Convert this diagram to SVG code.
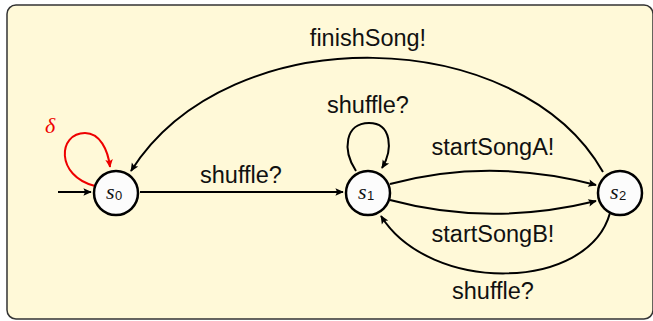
<svg xmlns="http://www.w3.org/2000/svg" width="653" height="321" viewBox="0 0 653 321">
<defs>
<style>
.lbl{font-family:"Liberation Sans",Arial,sans-serif;font-size:23.5px;fill:#111;text-anchor:middle}
.node{fill:#fcfcfc;stroke:#000;stroke-width:2.5}
.st{font-family:"Liberation Serif","Times New Roman",serif;font-style:italic;font-size:22px;fill:#111}
.sub{font-family:"Liberation Sans",Arial,sans-serif;font-size:13px;fill:#111}
.e{fill:none;stroke:#000;stroke-width:2}
</style>
<marker id="ah" viewBox="0 0 10 10" refX="9" refY="5" markerWidth="6" markerHeight="6" markerUnits="userSpaceOnUse" orient="auto" style="overflow:visible">
<path d="M0,0.5 L10,5 L0,9.5 L2,5 Z" fill="#000" transform="scale(1.4) translate(-2.6,-1.4)"/>
</marker>
<marker id="ahr" viewBox="0 0 10 10" refX="9" refY="5" markerWidth="6" markerHeight="6" markerUnits="userSpaceOnUse" orient="auto" style="overflow:visible">
<path d="M0,0.5 L10,5 L0,9.5 L2,5 Z" fill="#e00" transform="scale(1.4) translate(-2.6,-1.4)"/>
</marker>
</defs>
<rect x="7" y="5" width="646" height="314" rx="9" fill="#fff9d8" stroke="#333" stroke-width="1.5"/>
<g id="edges">
<path class="e" d="M58,192 L91,192" marker-end="url(#ah)"/>
<path class="e" d="M140,192 L343,192" marker-end="url(#ah)"/>
<path d="M95,186 C55,176 58,133 85,133 C100,133 108,150 110,167" fill="none" stroke="#e00" stroke-width="2" marker-end="url(#ahr)"/>
<path class="e" d="M356,171 C342,150 345,123 369,123 C392,123 393,150 382,168" marker-end="url(#ah)"/>
<path class="e" d="M603,172 C520,25 230,15 131,171" marker-end="url(#ah)"/>
<path class="e" d="M390,184 Q490,157 596,185" marker-end="url(#ah)"/>
<path class="e" d="M390,200 Q490,227 596,201" marker-end="url(#ah)"/>
<path class="e" d="M610,213 C588,292 430,294 381,216" marker-end="url(#ah)"/>
</g>
<g id="s0"><circle class="node" cx="116" cy="193" r="22"/><text class="st" x="106" y="199">s</text><text class="sub" x="115" y="200">0</text></g>
<g id="s1"><circle class="node" cx="368" cy="193" r="22"/><text class="st" x="358" y="199">s</text><text class="sub" x="367" y="200">1</text></g>
<g id="s2"><circle class="node" cx="620" cy="193" r="22"/><text class="st" x="610" y="199">s</text><text class="sub" x="619" y="200">2</text></g>
<g id="labels">
<text class="lbl" x="368" y="46">finishSong!</text>
<text class="lbl" x="241" y="183">shuffle?</text>
<text class="lbl" x="368" y="113">shuffle?</text>
<text class="lbl" x="493" y="155">startSongA!</text>
<text class="lbl" x="493" y="242">startSongB!</text>
<text class="lbl" x="493" y="299">shuffle?</text>
<text x="50" y="133" font-family="Liberation Serif,serif" font-style="italic" font-size="22" fill="#e00" text-anchor="middle">δ</text>
</g>
</svg>
